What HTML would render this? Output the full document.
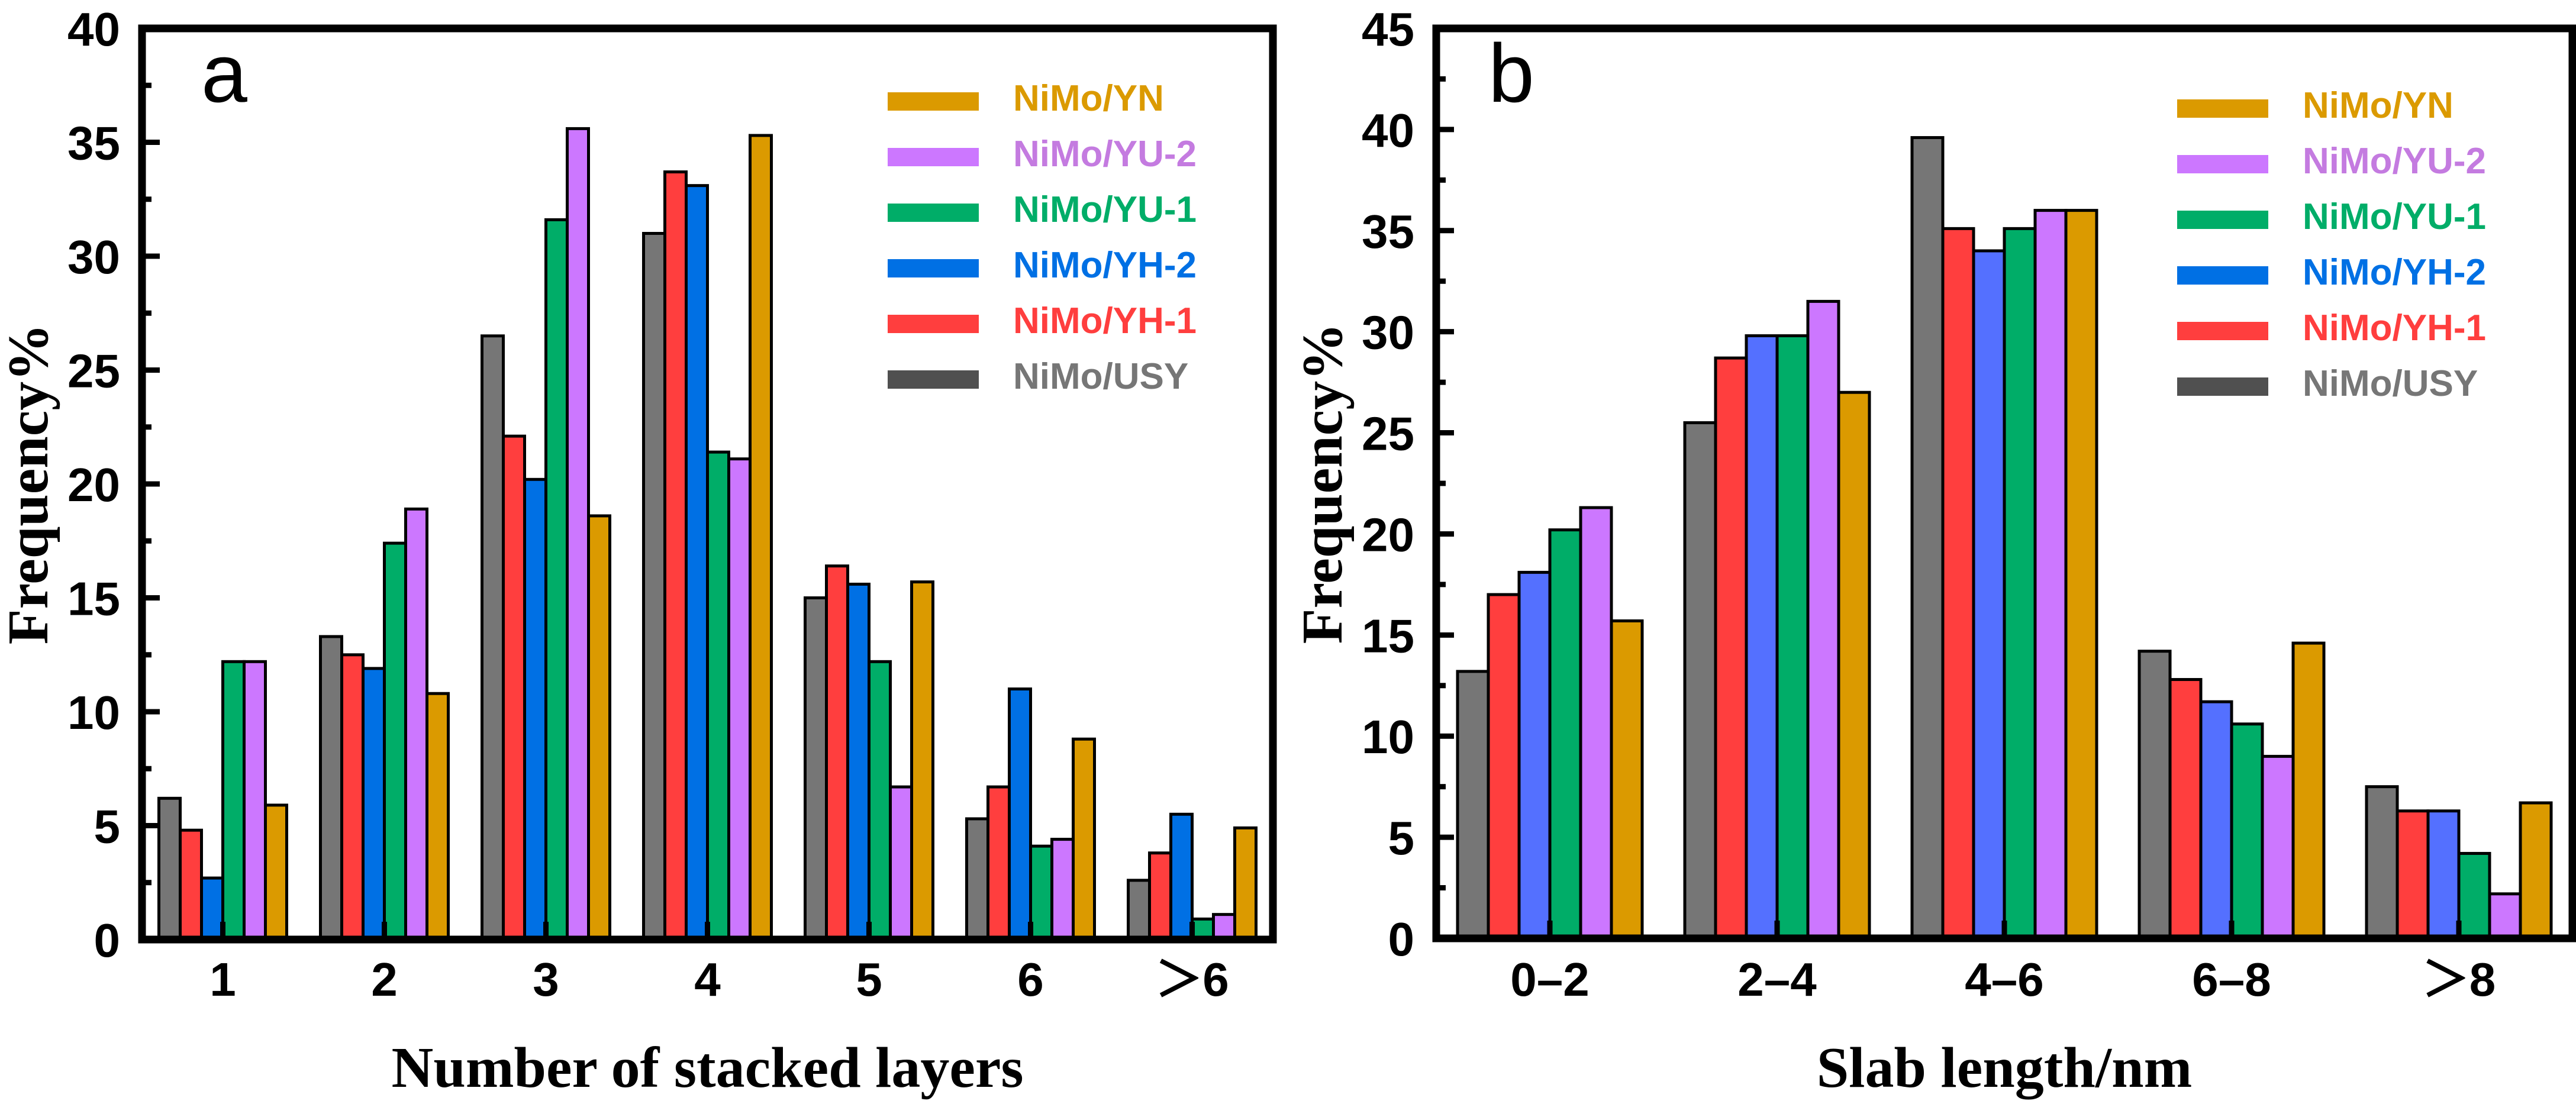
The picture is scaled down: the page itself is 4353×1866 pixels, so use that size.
<!DOCTYPE html>
<html><head><meta charset="utf-8"><style>
html,body{margin:0;padding:0;background:#fff}
svg{display:block}
.tick{font-family:"Liberation Sans",Arial,sans-serif;font-weight:bold;font-size:80px}
.ttl{font-family:"Liberation Serif","Times New Roman",serif;font-weight:bold;font-size:98px}
.leg{font-family:"Liberation Sans",Arial,sans-serif;font-weight:bold;font-size:62px}
.pl{font-family:"Liberation Sans",Arial,sans-serif;font-size:140px}
</style></head><body>
<svg id="chart" xmlns="http://www.w3.org/2000/svg" width="4353" height="1866" viewBox="0 0 4353 1866">
<rect width="4353" height="1866" fill="#fff"/>
</svg>
<script>
const seriesNames = ["NiMo/USY","NiMo/YH-1","NiMo/YH-2","NiMo/YU-1","NiMo/YU-2","NiMo/YN"];
const catsA = ["1","2","3","4","5","6","\uFF1E6"];
const usyA = [6.2,13.3,26.5,31.0,15.0,5.3,2.6];
const yh1A = [4.8,12.5,22.1,33.7,16.4,6.7,3.8];
const yh2A = [2.7,11.9,20.2,33.1,15.6,11.0,5.5];
const yu1A = [12.2,17.4,31.6,21.4,12.2,4.1,0.9];
const yu2A = [12.2,18.9,35.6,21.1,6.7,4.4,1.1];
const ynA  = [5.9,10.8,18.6,35.3,15.7,8.8,4.9];
const ticksA = [0,5,10,15,20,25,30,35,40];
const catsB = ["0\u20132","2\u20134","4\u20136","6\u20138","\uFF1E8"];
const usyB = [13.2,25.5,39.6,14.2,7.5];
const yh1B = [17.0,28.7,35.1,12.8,6.3];
const yh2B = [18.1,29.8,34.0,11.7,6.3];
const yu1B = [20.2,29.8,35.1,10.6,4.2];
const yu2B = [21.3,31.5,36.0,9.0,2.2];
const ynB  = [15.7,27.0,36.0,14.6,6.7];
const ticksB = [0,5,10,15,20,25,30,35,40,45];

const NS="http://www.w3.org/2000/svg";
const svg=document.getElementById('chart');
function mk(tag,attrs,parent,text){const e=document.createElementNS(NS,tag);for(const k in attrs)e.setAttribute(k,attrs[k]);if(text!==undefined)e.textContent=text;(parent||svg).appendChild(e);return e;}

function panel(o){
  const g=mk('g',{});
  
  
  const y=v=>o.y0-(v/o.ymax)*(o.y0-o.y1);
  const bw=(o.x1-o.x0)/o.cats.length;
  const cx=i=>o.x0+bw*(i+0.5);
  // bars
  o.series.forEach((s,si)=>{
    s.forEach((v,i)=>{
      const bx=cx(i)-o.pitch*3+si*o.pitch;
      const r=mk('rect',{x:bx,y:y(v),width:o.pitch,height:o.y0-y(v),fill:o.colors[si],stroke:'#000','stroke-width':5},g);
      
      
    });
  });
  // y ticks
  const step=o.ticks[1]-o.ticks[0];
  o.ticks.forEach((t,k)=>{
    mk('line',{x1:o.x0,x2:o.x0+30,y1:y(t),y2:y(t),stroke:'#000','stroke-width':9},g);
    if(k<o.ticks.length-1){const m=t+step/2;mk('line',{x1:o.x0,x2:o.x0+16,y1:y(m),y2:y(m),stroke:'#000','stroke-width':9},g);}
    const tl=mk('text',{x:o.x0-37,y:y(t)+29,'text-anchor':'end',class:'tick'},g,String(t));
    
    
  });
  o.cats.forEach((c,i)=>{
    mk('line',{x1:cx(i),x2:cx(i),y1:o.y0,y2:o.y0-30,stroke:'#000','stroke-width':9},g);
    const tl=mk('text',{x:cx(i),y:1683,'text-anchor':'middle',class:'tick'},g,c);
    
    
  });
  const fr=mk('rect',{x:o.x0,y:o.y1,width:o.x1-o.x0,height:o.y0-o.y1,fill:'none',stroke:'#000','stroke-width':13},g);
  
  
  const yt=mk('text',{x:0,y:0,'text-anchor':'middle',class:'ttl',transform:'translate('+(o.x0-160)+','+((o.y0+o.y1)/2)+') rotate(-90)'},g,'Frequency%');
  
  
  const xt=mk('text',{x:(o.x0+o.x1)/2,y:1837,'text-anchor':'middle',class:'ttl'},g,o.xtitle);
  
  
  const pl=mk('text',{x:o.lblx,y:172,class:'pl'},g,o.label);
  
  
  // legend (top to bottom: YN .. USY)
  const order=[5,4,3,2,1,0];
  order.forEach((si,k)=>{
    const cy=o.legy+k*94;
    const lg=mk('g',{},g);
    
    
    mk('rect',{x:o.legx,y:cy-16,width:154,height:31,fill:o.legSw[si]},lg);
    mk('text',{x:o.legx+212,y:cy+15,class:'leg',fill:o.legTx[si]},lg,seriesNames[si]);
  });
}
const txtCol=['#767676','#FF3E3E','#0070E4','#00AD68','#C47BE0','#DB9A00'];
panel({id:'a',x0:240,x1:2151,y0:1588,y1:48,ymax:40,ticks:ticksA,cats:catsA,pitch:36,
  series:[usyA,yh1A,yh2A,yu1A,yu2A,ynA],
  colors:['#767676','#FF3E3E','#0070E4','#00AD68','#CC77FF','#DB9A00'],
  legSw:['#505050','#FF3E3E','#0070E4','#00AD68','#CC77FF','#DB9A00'],legTx:txtCol,
  legx:1500,legy:172,xtitle:'Number of stacked layers',label:'a',lblx:340});
panel({id:'b',x0:2427,x1:4347,y0:1586,y1:48,ymax:45,ticks:ticksB,cats:catsB,pitch:52,
  series:[usyB,yh1B,yh2B,yu1B,yu2B,ynB],
  colors:['#767676','#FF3E3E','#5470FF','#00AD68','#CC77FF','#DB9A00'],
  legSw:['#505050','#FF3E3E','#0070E4','#00AD68','#CC77FF','#DB9A00'],legTx:txtCol,
  legx:3679,legy:184,xtitle:'Slab length/nm',label:'b',lblx:2515});
</script>
</body></html>
